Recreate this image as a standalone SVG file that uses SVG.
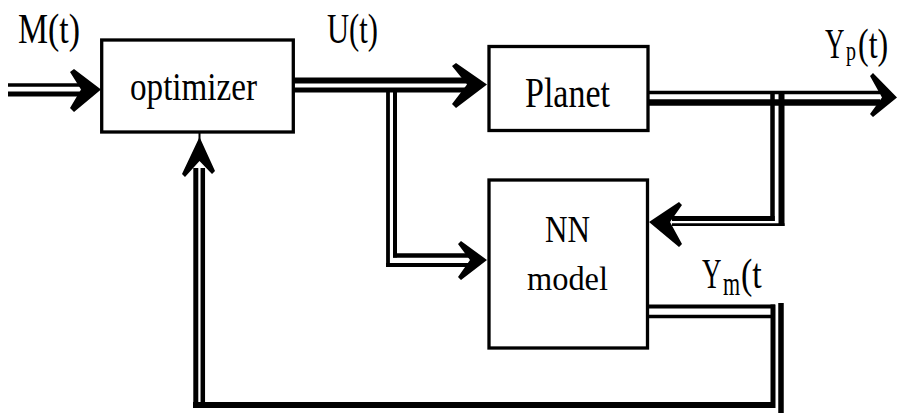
<svg xmlns="http://www.w3.org/2000/svg" width="898" height="413" viewBox="0 0 898 413">
  <style>
    .box { fill: #fff; stroke: #000; stroke-width: 3.3; }
    .ln { fill: none; stroke: #000; stroke-linecap: butt; }
    .head { fill: #000; stroke: none; }
    .lbl { font-family: "Liberation Serif", "DejaVu Serif", "Times New Roman", serif; font-size: 34px; fill: #000; }
    .cap { font-size: 27px; }
    .sp { font-size: 20px; }
    .sm { font-size: 22px; }
    .par { font-size: 32px; }
  </style>
  <rect width="898" height="413" fill="#fff"/>

  <!-- signal paths: double lines with barbed heads -->
  <g id="connectors">
    <!-- M(t) into optimizer -->
    <line class="ln" x1="8" y1="85" x2="80" y2="85" stroke-width="3.5"/>
    <line class="ln" x1="8" y1="94" x2="80" y2="94" stroke-width="5"/>
    <polygon class="head" points="101,89.5 74,69 70,72 81,89.5 70,108 74,112"/>

    <!-- U(t): optimizer to Planet -->
    <line class="ln" x1="294" y1="80.5" x2="466" y2="80.5" stroke-width="6"/>
    <line class="ln" x1="294" y1="90" x2="466" y2="90" stroke-width="5"/>
    <polygon class="head" points="487,84.5 456,63 452,66 467,84.5 452,104 456,108"/>

    <!-- U(t) branch down to NN model -->
    <line class="ln" x1="388" y1="92" x2="388" y2="267" stroke-width="3.8"/>
    <line class="ln" x1="386.1" y1="265" x2="470" y2="265" stroke-width="4"/>
    <line class="ln" x1="395" y1="92" x2="395" y2="257.5" stroke-width="4"/>
    <line class="ln" x1="393" y1="255.5" x2="470" y2="255.5" stroke-width="4.5"/>
    <polygon class="head" points="487,260 461,241 458,244 470,260 458,277 461,280"/>

    <!-- Yp(t): Planet output -->
    <line class="ln" x1="648" y1="92.5" x2="880" y2="92.5" stroke-width="3.5"/>
    <line class="ln" x1="648" y1="102.5" x2="880" y2="102.5" stroke-width="6.5"/>
    <polygon class="head" points="897,97.5 873,73 870,76 882,97.5 870,114 873,117"/>

    <!-- Yp(t) feedback down into NN model -->
    <line class="ln" x1="772.5" y1="92.5" x2="772.5" y2="221" stroke-width="4.5"/>
    <line class="ln" x1="672" y1="218.5" x2="774.7" y2="218.5" stroke-width="5"/>
    <line class="ln" x1="781.5" y1="92.5" x2="781.5" y2="226" stroke-width="6"/>
    <line class="ln" x1="672" y1="224.7" x2="784.5" y2="224.7" stroke-width="2.8"/>
    <polygon class="head" points="649,222 679,202 682,205 670,222 682,244 679,247"/>

    <!-- Ym(t) from NN model back to optimizer -->
    <line class="ln" x1="648" y1="306.5" x2="775" y2="306.5" stroke-width="4"/>
    <line class="ln" x1="648" y1="316.5" x2="771" y2="316.5" stroke-width="3.5"/>
    <line class="ln" x1="773" y1="304.5" x2="773" y2="408" stroke-width="5"/>
    <line class="ln" x1="781" y1="303" x2="781" y2="413" stroke-width="5.5"/>
    <line class="ln" x1="193" y1="405" x2="775" y2="405" stroke-width="6"/>
    <line class="ln" x1="195.8" y1="168" x2="195.8" y2="408" stroke-width="5"/>
    <line class="ln" x1="202.8" y1="168" x2="202.8" y2="402" stroke-width="4.5"/>
    <line class="ln" x1="199.5" y1="132" x2="199.5" y2="140" stroke-width="2"/>
    <polygon class="head" points="199.5,137 215,171 212,174 199.5,161 185,177 182,174"/>
  </g>

  <g id="optimizer">
    <rect class="box" x="101.7" y="40" width="191.6" height="92"/>
    <text class="lbl" transform="translate(130,100) scale(1,1.2)" textLength="127" lengthAdjust="spacingAndGlyphs">optimizer</text>
  </g>

  <g id="planet">
    <rect class="box" x="489" y="46.5" width="159" height="84"/>
    <text class="lbl" transform="translate(525,107) scale(1,1.25)" textLength="85" lengthAdjust="spacingAndGlyphs">Planet</text>
  </g>

  <g id="nn-model">
    <rect class="box" x="489" y="180" width="158.5" height="168"/>
    <text class="lbl" transform="translate(545,242) scale(1,1.12)" textLength="45" lengthAdjust="spacingAndGlyphs">NN</text>
    <text class="lbl" transform="translate(527,290) scale(1,1)" textLength="81" lengthAdjust="spacingAndGlyphs">model</text>
  </g>

  <g id="labels">
    <text class="lbl" transform="translate(18,43) scale(1,1.25)" textLength="62" lengthAdjust="spacingAndGlyphs">M(t)</text>
    <text class="lbl" transform="translate(327,43) scale(1,1.25)" textLength="51" lengthAdjust="spacingAndGlyphs">U(t)</text>
    <!-- plant output label: Y, subscript p, (t) -->
    <text class="lbl cap" transform="translate(825,58) scale(1,1.56)">Y</text>
    <text class="lbl sp" transform="translate(846,60) scale(1,1.4)">p</text>
    <text class="lbl par" transform="translate(858,58) scale(1,1.3)">(t)</text>
    <!-- model output label: Y, subscript m, (t -->
    <text class="lbl cap" transform="translate(702,288) scale(1,1.56)">Y</text>
    <text class="lbl sm" transform="translate(723,295) scale(1,1.5)">m</text>
    <text class="lbl" transform="translate(741,288) scale(1,1.25)">(t</text>
  </g>
</svg>
